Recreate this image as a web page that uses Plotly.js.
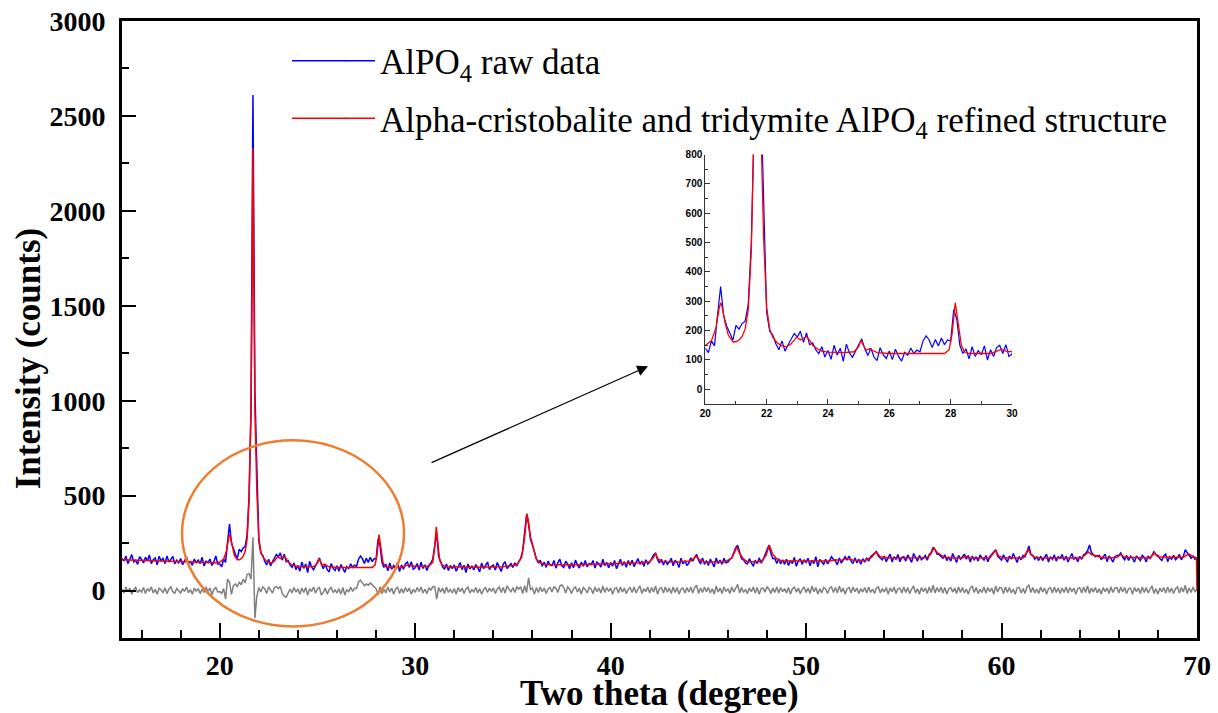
<!DOCTYPE html>
<html>
<head>
<meta charset="utf-8">
<script src="https://cdn.plot.ly/plotly-3.0.1.min.js"></script>
<style>html,body{margin:0;padding:0;background:#fff}#chart{width:1218px;height:713px}</style>
</head>
<body>
<div id="chart"></div>
<script>
// Raw data: counts every 0.1 degree from 15.0 to 70.0 (rows = one degree each)
const rawStart = 15.0;
const rawStep = 0.1;
const rawCounts = [
169,156,182,142,165,189,151,160,138,178,
165,145,176,156,187,142,162,172,135,181,
157,169,142,182,150,164,180,141,160,146,
169,136,157,177,144,152,133,166,147,160,
142,175,129,155,147,166,132,151,182,140,
140,125,165,148,255,350,250,215,192,168,
218,205,224,232,290,500,950,2610,1050,640,
262,198,185,155,135,165,130,152,172,190,
178,198,160,192,152,158,135,122,145,110,
132,102,150,117,140,95,154,124,109,132,
150,172,138,115,140,110,98,142,118,105,
131,101,137,112,96,126,116,141,122,134,
128,165,182,168,142,170,148,175,152,168,
165,272,238,150,122,138,104,145,112,132,
118,148,100,135,112,142,150,122,152,112,
120,142,108,150,116,136,105,132,145,165,
250,305,180,150,125,112,140,105,132,115,
135,102,128,148,110,133,95,140,114,130,
108,137,120,98,145,115,132,150,110,128,
134,108,148,122,100,138,152,116,130,142,
122,146,132,155,170,210,300,400,350,270,
240,200,168,145,160,128,150,122,155,135,
132,158,118,146,165,130,122,155,140,115,
146,120,160,135,118,150,128,158,125,142,
136,158,118,150,140,124,165,132,148,120,
148,128,158,115,143,165,132,152,122,158,
134,160,126,150,168,138,155,128,162,140,
150,168,188,196,162,145,165,135,160,138,
150,170,130,160,146,122,170,140,158,132,
145,172,155,175,190,160,140,172,138,158,
132,165,148,125,172,142,160,138,170,146,
150,165,172,198,226,238,200,168,162,145,
140,168,146,128,160,142,172,145,162,185,
215,240,195,168,170,142,168,140,162,138,
165,132,158,142,175,128,155,168,138,162,
148,170,130,160,142,178,125,164,150,138,
165,140,156,178,165,155,135,172,145,165,
178,160,182,155,142,172,145,165,138,168,
150,172,155,178,188,200,205,180,168,162,
182,152,175,192,150,178,165,190,152,175,
178,155,188,165,148,195,170,155,185,162,
172,185,160,190,200,228,215,192,190,182,
170,188,158,178,155,195,168,148,185,165,
178,192,165,185,150,182,162,178,155,188,
172,160,185,152,178,190,200,215,182,168,
160,188,172,150,182,165,195,168,148,180,
162,185,178,205,235,190,185,165,178,158,
182,158,175,192,150,178,165,188,155,178,
170,190,160,182,150,178,195,165,175,152,
180,165,188,195,210,240,200,188,178,182,
185,162,175,192,152,182,168,150,178,185,
185,198,175,162,185,158,180,170,150,182,
170,158,185,175,150,182,168,188,205,188,
185,168,158,182,192,152,178,165,185,162,
172,190,162,180,215,200,185,170,182,165,
170
];

// Difference curve (raw - refined), same 0.1 degree grid
const diffCounts = [
8,-13,19,-5,13,-19,5,16,-10,3,
-8,16,-16,10,-3,19,-13,6,-19,13,
3,-10,14,-16,8,19,-6,-14,11,0,
-13,10,-5,18,-11,5,-19,13,-3,10,
-16,8,-10,19,-5,13,-22,6,16,-8,
-5,-15,10,-45,60,45,-20,25,35,20,
45,30,60,40,85,90,60,280,-145,-30,
16,-8,20,10,-16,19,5,-13,16,20,
10,22,-15,-30,-35,-12,8,-13,16,-8,
8,-19,13,-10,16,-24,10,-5,19,-13,
8,16,-24,-8,13,-19,5,16,-10,3,
-13,10,-19,16,-24,6,-8,19,-5,13,
10,45,55,40,25,35,28,40,30,25,
10,-22,20,-16,8,-13,19,-8,13,-19,
8,19,-16,10,-13,16,-6,13,-19,6,
-10,16,-5,19,-13,8,-16,13,3,20,
20,-45,16,-8,13,-16,19,-10,6,-13,
10,-19,16,-6,13,-16,8,19,-13,5,
-8,16,-13,10,-19,6,16,-10,13,-5,
13,-16,8,19,-10,16,-13,24,6,-8,
16,-10,19,8,20,-16,25,-10,67,5,
13,-19,16,-10,19,-6,13,-16,8,16,
-8,19,13,-10,24,30,16,-13,19,8,
-16,10,19,-8,13,-19,16,6,-13,16,
8,-16,19,-6,13,-13,24,-10,16,-5,
13,-19,10,16,-13,19,-8,13,-16,6,
16,-10,19,-13,8,24,-16,10,-6,19,
-13,16,-8,24,-19,10,16,-13,19,-8,
13,-16,19,-10,16,-19,8,13,-13,16,
-8,19,-13,16,28,-16,13,-10,19,-6,
16,-13,10,-19,24,-8,13,-16,19,-5,
10,-16,19,-8,13,32,-13,16,-10,6,
-16,13,-6,19,-13,16,-19,10,13,-8,
19,8,-16,13,-10,19,-13,16,-6,10,
-13,16,-19,10,19,-8,13,-16,6,19,
-10,13,-16,24,-6,16,-19,10,-13,16,
8,-16,13,19,-10,16,-13,24,-8,13,
-19,10,16,-13,19,-6,13,-16,10,-8,
16,-13,19,-10,8,-16,13,19,-13,10,
-8,16,-19,13,-6,19,-16,10,13,-13,
19,-10,16,-16,8,24,-13,10,-19,16,
-6,13,-16,19,-10,28,-13,16,-8,19,
-13,16,-19,10,16,-8,13,-16,19,-10,
16,-13,8,-19,13,24,-10,16,-16,6,
-10,19,-13,16,-6,13,-19,24,-8,16,
13,-16,19,-10,16,-13,8,-19,13,16,
-13,10,-16,19,28,-10,16,-13,8,-16,
19,-8,13,-19,10,16,-13,19,-10,13,
-16,13,-10,19,-13,16,-6,13,-19,10,
16,-13,19,-10,24,-16,13,-8,16,-13,
10,-19,16,-6,13,-16,19,-10,13,16,
-13,19,-8,16,-16,10,13,-19,16,-6,
13,-16,19,-10,16,-13,8,24,-16,10,
-19,13,-6,16,-13,19,-10,13,-16,10,
19,-13,16,-8,28,-16,13,-10,19,-6,
5
];

// Refined (calculated) profile
const refTheta = [15,16,17,18,19,19.8,20.0,20.2,20.35,20.45,20.5,20.55,20.65,20.75,20.9,21.0,21.1,21.2,21.3,21.4,21.5,21.6,21.65,21.7,21.75,21.8,21.9,22.0,22.1,22.2,22.35,22.5,22.65,22.8,22.9,22.98,23.1,23.2,23.3,23.4,23.5,23.65,23.8,24.0,24.5,24.85,25.0,25.08,25.15,25.25,25.35,25.45,25.6,26,27,27.8,27.95,28.05,28.15,28.25,28.35,28.45,28.6,29.3,29.5,29.65,29.8,30.0,30.7,30.9,31.0,31.08,31.15,31.25,31.4,31.6,33,34.5,35.2,35.45,35.6,35.72,35.8,35.9,35.97,36.05,36.2,36.4,36.7,38,40,41.5,42.0,42.2,42.3,42.4,42.6,43.5,44.1,44.37,44.6,44.8,45.8,46.2,46.35,46.46,46.6,46.8,47.0,47.7,47.95,48.12,48.3,48.55,48.8,50,51.2,51.5,51.8,52.1,52.4,53.0,53.35,53.57,53.8,54.2,56.2,56.4,56.54,56.7,56.88,57.1,57.4,58.0,58.16,58.35,59.4,59.55,59.7,59.85,60.1,61.1,61.25,61.37,61.5,61.7,62,64.1,64.3,64.44,64.6,64.9,65.2,65.9,66.1,66.3,67.6,67.83,68.0,68.5,69.3,69.59,69.8,69.97,70];
const refCounts = [162,158,155,152,149,147,150,165,210,275,295,280,225,185,162,162,168,180,205,270,470,950,1500,2330,1600,950,520,280,205,178,158,148,145,155,170,178,168,175,180,168,150,138,130,127,125,128,145,167,150,133,138,133,125,122,121,122,135,190,295,220,150,128,122,122,130,136,130,128,128,150,230,335,260,160,132,125,123,125,135,175,280,405,360,280,255,220,165,145,137,135,140,146,152,175,196,170,152,150,155,180,158,150,150,170,205,229,195,165,152,152,185,238,190,162,155,154,156,162,158,170,160,158,175,203,178,171,173,195,226,200,190,175,171,172,180,172,172,190,212,182,172,172,195,215,190,175,171,172,190,203,190,180,172,174,190,175,172,198,178,175,176,193,178,172,0];

const rawLabel = 'AlPO<sub>4</sub> raw data';
const refLabel = 'Alpha-cristobalite and tridymite AlPO<sub>4</sub> refined structure';
const xTitle = 'Two theta (degree)';
const yTitle = 'Intensity (counts)';

const twoTheta = rawCounts.map((_, i) => +(rawStart + i * rawStep).toFixed(1));

const serif = 'Liberation Serif, Times New Roman, serif';
const arial = 'Liberation Sans, Arial, sans-serif';
const BLUE = '#0000FF', RED = '#FF0000', GRAY = '#808080';

const traces = [
  {x: twoTheta, y: diffCounts, type: 'scatter', mode: 'lines', line: {color: GRAY, width: 1.5}, showlegend: false},
  {x: twoTheta, y: rawCounts, type: 'scatter', mode: 'lines', name: rawLabel, line: {color: BLUE, width: 1.5}, legendgroup: 'a'},
  {x: refTheta, y: refCounts, type: 'scatter', mode: 'lines', name: refLabel, line: {color: RED, width: 1.5}, legendgroup: 'b'},
  {x: twoTheta, y: rawCounts, xaxis: 'x2', yaxis: 'y2', type: 'scatter', mode: 'lines', line: {color: BLUE, width: 1.2}, showlegend: false},
  {x: refTheta, y: refCounts, xaxis: 'x2', yaxis: 'y2', type: 'scatter', mode: 'lines', line: {color: RED, width: 1.3}, showlegend: false}
];

const layout = {
  width: 1218, height: 713,
  margin: {l: 122, r: 21, t: 21, b: 75},
  paper_bgcolor: '#fff', plot_bgcolor: '#fff',
  showlegend: true,
  legend: {x: 0.2028, y: 0.983, xanchor: 'left', yanchor: 'top', bgcolor: 'rgba(0,0,0,0)',
           font: {family: serif, size: 35, color: '#000'}, tracegroupgap: 9, itemwidth: 30},
  xaxis: {
    range: [15, 70], tick0: 0, dtick: 10, ticks: 'inside', ticklen: 15, tickwidth: 2, tickcolor: '#000',
    showline: true, linewidth: 3, linecolor: '#000', mirror: true, showgrid: false, zeroline: false,
    minor: {dtick: 2, tick0: 0, ticks: 'inside', ticklen: 8, tickwidth: 2, tickcolor: '#000', showgrid: false},
    tickfont: {family: serif, size: 28, color: '#000', weight: 'bold'}
  },
  yaxis: {
    range: [-250, 3000], tick0: 0, dtick: 500, ticks: 'inside', ticklen: 14, tickwidth: 2, tickcolor: '#000',
    showline: true, linewidth: 3, linecolor: '#000', mirror: true, showgrid: false, zeroline: false,
    minor: {dtick: 250, tick0: 0, ticks: 'inside', ticklen: 7, tickwidth: 2, tickcolor: '#000', showgrid: false},
    tickfont: {family: serif, size: 28, color: '#000', weight: 'bold'},
    ticklabelstandoff: 8
  },
  xaxis2: {
    domain: [0.5426, 0.8279], anchor: 'y2', range: [20, 30], tick0: 0, dtick: 2,
    ticks: 'inside', ticklen: 5, tickwidth: 1, tickcolor: '#333', showline: true, linewidth: 1, linecolor: '#333',
    showgrid: false, zeroline: false,
    minor: {dtick: 1, ticks: 'inside', ticklen: 3, tickwidth: 1, tickcolor: '#333', showgrid: false},
    tickfont: {family: arial, size: 10, color: '#000', weight: 'bold'}
  },
  yaxis2: {
    domain: [0.3793, 0.7835], anchor: 'x2', range: [-50, 800], tick0: 0, dtick: 100,
    ticks: 'inside', ticklen: 5, tickwidth: 1, tickcolor: '#333', showline: true, linewidth: 1, linecolor: '#333',
    showgrid: false, zeroline: false,
    minor: {dtick: 50, ticks: 'inside', ticklen: 3, tickwidth: 1, tickcolor: '#333', showgrid: false},
    tickfont: {family: arial, size: 10, color: '#000', weight: 'bold'}
  },
  shapes: [
    {type: 'circle', xref: 'x', yref: 'y', x0: 18.07, x1: 29.43, y0: -189, y1: 791,
     line: {color: '#ED7D31', width: 2.5}, layer: 'above'},
    // longer legend line samples, as in the reference (aligned to the legend after drawing)
    {type: 'line', xref: 'paper', yref: 'paper', x0: 0.1581, x1: 0.2084, y0: 0.9339, y1: 0.9339, line: {color: BLUE, width: 1.5}},
    {type: 'line', xref: 'paper', yref: 'paper', x0: 0.1581, x1: 0.2084, y0: 0.8431, y1: 0.8431, line: {color: RED, width: 1.5}}
  ],
  annotations: [
    {xref: 'x', yref: 'y', axref: 'x', ayref: 'y', x: 41.91, y: 1181, ax: 30.76, ay: 670,
     text: '', showarrow: true, arrowhead: 2, arrowsize: 1.8, arrowwidth: 1.2, arrowcolor: '#000'},
    {xref: 'paper', yref: 'paper', x: 0.5, y: -0.0896, xanchor: 'center', yanchor: 'middle', showarrow: false,
     text: xTitle, font: {family: serif, size: 35, color: '#000', weight: 'bold'}},
    {xref: 'paper', yref: 'paper', x: -0.0874, y: 0.4533, xanchor: 'center', yanchor: 'middle', showarrow: false,
     textangle: -90, text: yTitle, font: {family: serif, size: 35, color: '#000', weight: 'bold'}}
  ]
};

Plotly.newPlot('chart', traces, layout, {displayModeBar: false, staticPlot: true}).then(gd => {
  // align the legend line extensions with the legend's own line samples
  const box = gd.getBoundingClientRect();
  const sz = gd._fullLayout._size;
  const paths = gd.querySelectorAll('.legend .legendlines path');
  const upd = {};
  paths.forEach((p, i) => {
    if (i > 1) return;
    const r = p.getBoundingClientRect();
    const cy = r.top + r.height / 2 - box.top;
    const left = r.left - box.left;
    const py = 1 - (cy - sz.t) / sz.h;
    const px = (left + 1 - sz.l) / sz.w;
    upd['shapes[' + (i + 1) + '].y0'] = py;
    upd['shapes[' + (i + 1) + '].y1'] = py;
    upd['shapes[' + (i + 1) + '].x1'] = px;
  });
  if (Object.keys(upd).length) Plotly.relayout(gd, upd);
});
</script>
</body>
</html>
